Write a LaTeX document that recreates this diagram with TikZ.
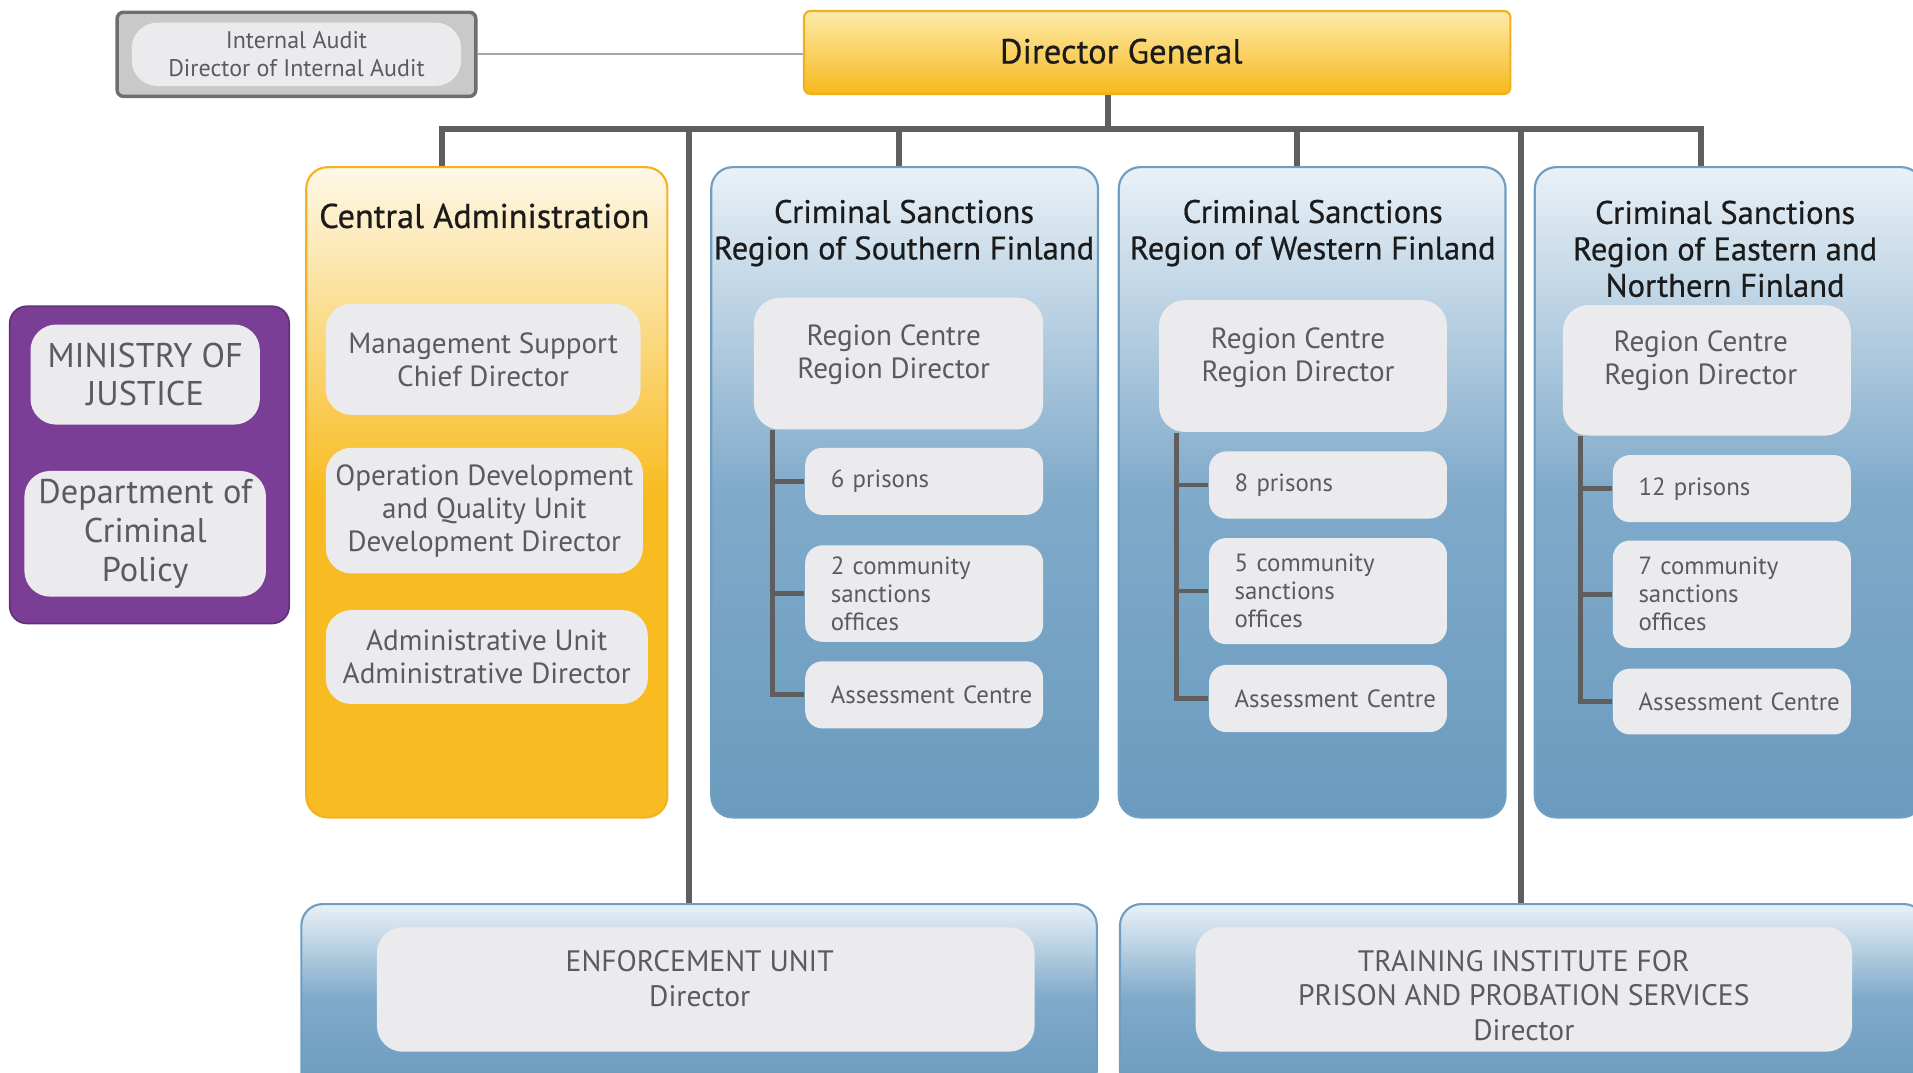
\documentclass[tikz,border=0pt]{standalone}
\usepackage{fontspec}
\setmainfont{PT Sans}
\newfontfamily\headfont{PT Sans}[FakeBold=0.6]
\usetikzlibrary{positioning}
\definecolor{dgtop}{HTML}{FDEBAA}
\definecolor{dgbot}{HTML}{F7B81C}
\definecolor{dgborder}{HTML}{F2B01E}
\definecolor{catop}{HTML}{FEF8E8}
\definecolor{camid}{HTML}{F8BC22}
\definecolor{caborder}{HTML}{F4B223}
\definecolor{paneltop}{HTML}{E9F1F7}
\definecolor{panelmid}{HTML}{80AACA}
\definecolor{panelbot}{HTML}{6A9BBE}
\definecolor{panelborder}{HTML}{6F9EC1}
\definecolor{cardbg}{HTML}{EBEBED}
\definecolor{cardtext}{HTML}{5A5B5D}
\definecolor{titletext}{HTML}{1B1B1B}
\definecolor{linegray}{HTML}{5E5E5E}
\definecolor{auditbg}{HTML}{C9C9C9}
\definecolor{auditborder}{HTML}{6E6E6E}
\definecolor{ministrybg}{HTML}{7A3E96}

\begin{document}
\begin{tikzpicture}[
    bus/.style={draw=linegray, line width=1.4pt},
    tree/.style={draw=linegray, line width=1.1pt},
    panel/.style={
        rounded corners=5pt, draw=panelborder, line width=0.5pt,
        top color=paneltop, bottom color=panelbot, middle color=panelmid
    },
    capanel/.style={
        rounded corners=5pt, draw=caborder, line width=0.5pt,
        top color=catop, bottom color=camid, middle color=camid
    },
    card/.style={fill=cardbg, rounded corners=6pt, text=cardtext,
        align=center, inner sep=0pt},
    subcard/.style={fill=cardbg, rounded corners=4pt, text=cardtext,
        align=left, text width=1.53cm, inner xsep=0.21cm, inner ysep=0pt,
        font=\fontsize{5.8}{6.5}\selectfont},
    title/.style={text=titletext, align=center,
        font=\headfont\fontsize{7.6}{8.5}\selectfont},
    cardfont/.style={font=\fontsize{6.8}{7.7}\selectfont},
    rctext/.style={text=cardtext, align=center, cardfont},
]

\useasboundingbox (0,0) rectangle (15.68,-8.79);
\clip (0,0) rectangle (15.68,-8.79);

% Internal audit (top left)
\node[fill=auditbg, draw=auditborder, line width=0.8pt, rounded corners=1.5pt,
    minimum width=2.94cm, minimum height=0.69cm] (auditbox) at (2.43,-0.445) {};
\node[card, minimum width=2.70cm, minimum height=0.52cm,
    font=\fontsize{5.6}{6.5}\selectfont] (audit) at (2.43,-0.445)
    {Internal Audit\\Director of Internal Audit};

% Director General
\node[top color=dgtop, bottom color=dgbot, draw=dgborder, line width=0.5pt,
    rounded corners=1.5pt, minimum width=5.79cm, minimum height=0.68cm]
    (dg) at (9.485,-0.43) {};
\node[text=titletext, font=\headfont\fontsize{8.1}{9}\selectfont] at (9.19,-0.42)
    {Director General};

\draw[draw=gray!70, line width=0.4pt] (auditbox.east) -- (dg.west |- auditbox.east);

% Ministry of Justice (left)
\node[fill=ministrybg, draw=ministrybg!80!black, line width=0.4pt, rounded corners=4pt,
    minimum width=2.29cm, minimum height=2.60cm] (ministry) at (1.225,-3.81) {};
\node[card, minimum width=1.88cm, minimum height=0.82cm,
    font=\fontsize{8}{9}\selectfont] (moj) at (1.19,-3.07)
    {MINISTRY OF\\JUSTICE};
\node[card, minimum width=1.98cm, minimum height=1.03cm,
    font=\fontsize{8}{9}\selectfont] (dcp) at (1.19,-4.375)
    {Department of\\Criminal\\Policy};

% Central Administration
\node[capanel, minimum width=2.96cm, minimum height=5.33cm] (ca) at (3.99,-4.035) {};
\node[title, font=\headfont\fontsize{8}{9}\selectfont] at (3.97,-1.77)
    {Central Administration};
\node[card, cardfont, minimum width=2.58cm, minimum height=0.91cm] (mgmt)
    at (3.96,-2.945) {Management Support\\Chief Director};
\node[card, cardfont, minimum width=2.60cm, minimum height=1.03cm] (opdev)
    at (3.97,-4.185) {Operation Development\\and Quality Unit\\Development Director};
\node[card, cardfont, minimum width=2.64cm, minimum height=0.77cm] (admin)
    at (3.99,-5.385) {Administrative Unit\\Administrative Director};

% Region of Southern Finland
\node[panel, minimum width=3.17cm, minimum height=5.33cm] (south) at (7.415,-4.035) {};
\node[title] at (7.41,-1.91) {Criminal Sanctions\\Region of Southern Finland};
\node[card, minimum width=2.37cm, minimum height=1.08cm] (southrc) at (7.365,-2.98) {};
\node[rctext] at (7.325,-2.905) {Region Centre\\Region Director};
\node[subcard, minimum height=0.55cm] (southpr) at (7.575,-3.945) {6 prisons};
\node[subcard, minimum height=0.79cm] (southcs) at (7.575,-4.865)
    {2 community\\sanctions\\offices};
\node[subcard, minimum height=0.55cm] (southac) at (7.575,-5.695)
    {\makebox[0pt][l]{Assessment Centre}};
\draw[tree] ([xshift=0.16cm]southrc.south west) |- (southac.west);
\draw[tree] ([xshift=0.16cm]southrc.south west) |- (southpr.west);
\draw[tree] ([xshift=0.16cm]southrc.south west) |- (southcs.west);

% Region of Western Finland
\node[panel, minimum width=3.17cm, minimum height=5.33cm] (west) at (10.755,-4.035) {};
\node[title] at (10.76,-1.91) {Criminal Sanctions\\Region of Western Finland};
\node[card, minimum width=2.36cm, minimum height=1.08cm] (westrc) at (10.68,-3.00) {};
\node[rctext] at (10.64,-2.935) {Region Centre\\Region Director};
\node[subcard, minimum height=0.55cm] (westpr) at (10.885,-3.975) {8 prisons};
\node[subcard, minimum height=0.87cm] (westcs) at (10.885,-4.845)
    {5 community\\sanctions\\offices};
\node[subcard, minimum height=0.55cm] (westac) at (10.885,-5.725)
    {\makebox[0pt][l]{Assessment Centre}};
\draw[tree] ([xshift=0.15cm]westrc.south west) |- (westac.west);
\draw[tree] ([xshift=0.15cm]westrc.south west) |- (westpr.west);
\draw[tree] ([xshift=0.15cm]westrc.south west) |- (westcs.west);

% Region of Eastern and Northern Finland
\node[panel, minimum width=3.18cm, minimum height=5.33cm] (east) at (14.17,-4.035) {};
\node[title] at (14.14,-2.04) {Criminal Sanctions\\Region of Eastern and\\Northern Finland};
\node[card, minimum width=2.36cm, minimum height=1.07cm] (eastrc) at (13.99,-3.035) {};
\node[rctext] at (13.94,-2.955) {Region Centre\\Region Director};
\node[subcard, minimum height=0.55cm] (eastpr) at (14.195,-4.005) {12 prisons};
\node[subcard, minimum height=0.88cm] (eastcs) at (14.195,-4.87)
    {7 community\\sanctions\\offices};
\node[subcard, minimum height=0.54cm] (eastac) at (14.195,-5.75)
    {\makebox[0pt][l]{Assessment Centre}};
\draw[tree] ([xshift=0.15cm]eastrc.south west) |- (eastac.west);
\draw[tree] ([xshift=0.15cm]eastrc.south west) |- (eastpr.west);
\draw[tree] ([xshift=0.15cm]eastrc.south west) |- (eastcs.west);

% Enforcement unit and training institute (bottom)
\node[panel, minimum width=6.52cm, minimum height=1.54cm] (enf) at (5.73,-8.18) {};
\node[card, minimum width=5.39cm, minimum height=1.02cm] (enfcard) at (5.785,-8.11) {};
\node[text=cardtext, align=center, font=\fontsize{6.9}{8}\selectfont] at (5.735,-8.02)
    {ENFORCEMENT UNIT\\Director};
\node[panel, minimum width=6.60cm, minimum height=1.54cm] (train) at (12.48,-8.18) {};
\node[card, minimum width=5.38cm, minimum height=1.02cm] (traincard) at (12.49,-8.11) {};
\node[text=cardtext, align=center, font=\fontsize{6.9}{8}\selectfont] at (12.49,-8.16)
    {TRAINING INSTITUTE FOR\\PRISON AND PROBATION SERVICES\\Director};

% Connector bus below the Director General
\coordinate (trunk) at (9.08,-1.06);
\coordinate (busl) at (3.62,-1.06);
\coordinate (busr) at (13.94,-1.06);
\coordinate (dsouth) at (7.37,-1.06);
\coordinate (dwest) at (10.63,-1.06);
\coordinate (denf) at (5.65,-1.06);
\coordinate (dtrain) at (12.47,-1.06);

\draw[bus] (dg.south -| trunk) -- (trunk);
\draw[bus] (busl |- ca.north) -- (busl) -- (busr) -- (busr |- east.north);
\draw[bus] (dsouth) -- (dsouth |- south.north);
\draw[bus] (dwest) -- (dwest |- west.north);
% long drops to the bottom units
\draw[bus] (denf) -- (denf |- enf.north);
\draw[bus] (dtrain) -- (dtrain |- train.north);

\end{tikzpicture}
\end{document}
